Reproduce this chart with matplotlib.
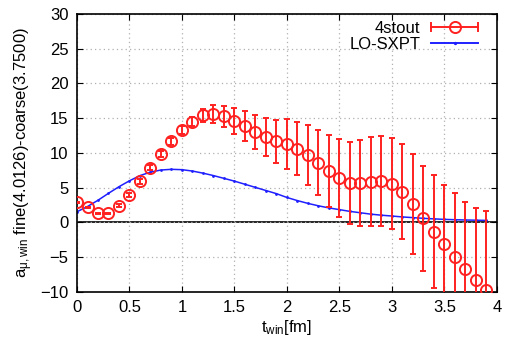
import numpy as np
import matplotlib.pyplot as plt
from matplotlib.legend_handler import HandlerBase
from matplotlib.lines import Line2D

plt.rcParams['font.family'] = ['Liberation Sans', 'DejaVu Sans']
plt.rcParams['mathtext.fontset'] = 'custom'
plt.rcParams['mathtext.rm'] = 'Liberation Sans'
plt.rcParams['mathtext.it'] = 'Liberation Sans'

# t_win in fm, 0.1 fm steps
t_win = np.round(np.arange(0, 40) * 0.1, 1)

# 4stout: fine(4.0126)-coarse(3.7500) difference and errors
stout_val = [2.9, 2.2, 1.3, 1.3, 2.4, 3.95, 5.9, 7.9, 9.85, 11.7,
             13.3, 14.5, 15.4, 15.6, 15.3, 14.6, 13.9, 13.0, 12.3, 11.7,
             11.25, 10.6, 9.7, 8.6, 7.45, 6.35, 5.75, 5.65, 5.85, 5.95,
             5.6, 4.45, 2.6, 0.6, -1.3, -3.15, -4.9, -6.7, -8.3, -9.7]
stout_err = [0.1, 0.1, 0.1, 0.1, 0.2, 0.3, 0.35, 0.4, 0.45, 0.5,
             0.55, 0.65, 0.9, 1.25, 1.5, 1.85, 2.2, 2.45, 2.8, 3.1,
             3.6, 3.8, 4.3, 4.7, 5.2, 5.6, 5.9, 6.2, 6.4, 6.45,
             6.6, 6.85, 7.2, 7.6, 8.1, 8.55, 9.1, 9.7, 10.4, 11.4]

# LO-SXPT prediction
sxpt_val = [1.55, 2.3, 3.2, 4.2, 5.15, 6.0, 6.75, 7.25, 7.55, 7.65,
            7.6, 7.4, 7.1, 6.75, 6.35, 5.95, 5.5, 5.05, 4.6, 4.15,
            3.6, 3.15, 2.75, 2.4, 2.1, 1.85, 1.6, 1.4, 1.2, 1.05,
            0.93, 0.8, 0.7, 0.6, 0.52, 0.45, 0.4, 0.36, 0.33, 0.3]

RED = '#ff2020'
BLUE = '#2020ff'


class GnuplotHandler(HandlerBase):
    # gnuplot style key sample: horizontal bar, caps at both ends, marker in middle
    def __init__(self, color, marker, ms, caps):
        super().__init__()
        self.color, self.marker, self.ms, self.caps = color, marker, ms, caps

    def create_artists(self, legend, orig_handle, xdescent, ydescent,
                       width, height, fontsize, trans):
        x0, x1 = -xdescent, -xdescent + width
        yc = -ydescent + height / 2
        arts = [Line2D([x0, x1], [yc, yc], color=self.color, lw=1.4,
                       transform=trans)]
        if self.caps:
            for xx in (x0, x1):
                arts.append(Line2D([xx, xx], [yc - 3, yc + 3], color=self.color,
                                   lw=1.4, transform=trans))
        arts.append(Line2D([(x0 + x1) / 2], [yc], color=self.color,
                           marker=self.marker, ms=self.ms, mfc='none', mew=1.4,
                           lw=0, transform=trans))
        return arts


fig = plt.figure(figsize=(5.08, 3.47), dpi=100)
ax = fig.add_axes([0.1516, 0.1585, 0.8264, 0.8012])

ax.axhline(0, color='black', lw=1.2, zorder=1)
eb = ax.errorbar(t_win, stout_val, yerr=stout_err, fmt='o', color=RED,
                 mfc='none', ms=8, mew=1.4, elinewidth=1.4, capsize=2.5,
                 capthick=1.4, zorder=3)
ln, = ax.plot(t_win, sxpt_val, color=BLUE, lw=1.1, marker='.', ms=2, zorder=2)

ax.set_xlim(0, 4)
ax.set_ylim(-10, 30)
ax.set_xticks(np.arange(0, 4.01, 0.5))
ax.set_xticklabels(['0', '0.5', '1', '1.5', '2', '2.5', '3', '3.5', '4'])
ax.set_yticks(np.arange(-10, 31, 5))
ax.grid(True, color='#b0b0b0', linestyle=(0, (1, 2.5)), lw=0.9)
ax.tick_params(direction='in', top=True, right=True, labelsize=12,
               length=4, width=0.8, pad=6)
for s in ax.spines.values():
    s.set_linewidth(1.2)

ax.set_xlabel(r'$\mathregular{t_{win}}$[fm]', fontsize=12, labelpad=2)
ax.set_ylabel(r'$\mathregular{a_{\mu,win}}$ fine(4.0126)-coarse(3.7500)',
              fontsize=12, labelpad=4)

h1 = Line2D([], [])
h2 = Line2D([], [])
ax.legend([h1, h2], ['4stout', 'LO-SXPT'],
          handler_map={h1: GnuplotHandler(RED, 'o', 8, True),
                       h2: GnuplotHandler(BLUE, '.', 2, False)},
          loc='upper right', bbox_to_anchor=(0.955, 0.975), frameon=False,
          markerfirst=False, fontsize=12, handlelength=2.8,
          handletextpad=0.65, labelspacing=0.05, borderaxespad=0,
          borderpad=0)

fig.savefig('out.png', dpi=100)
